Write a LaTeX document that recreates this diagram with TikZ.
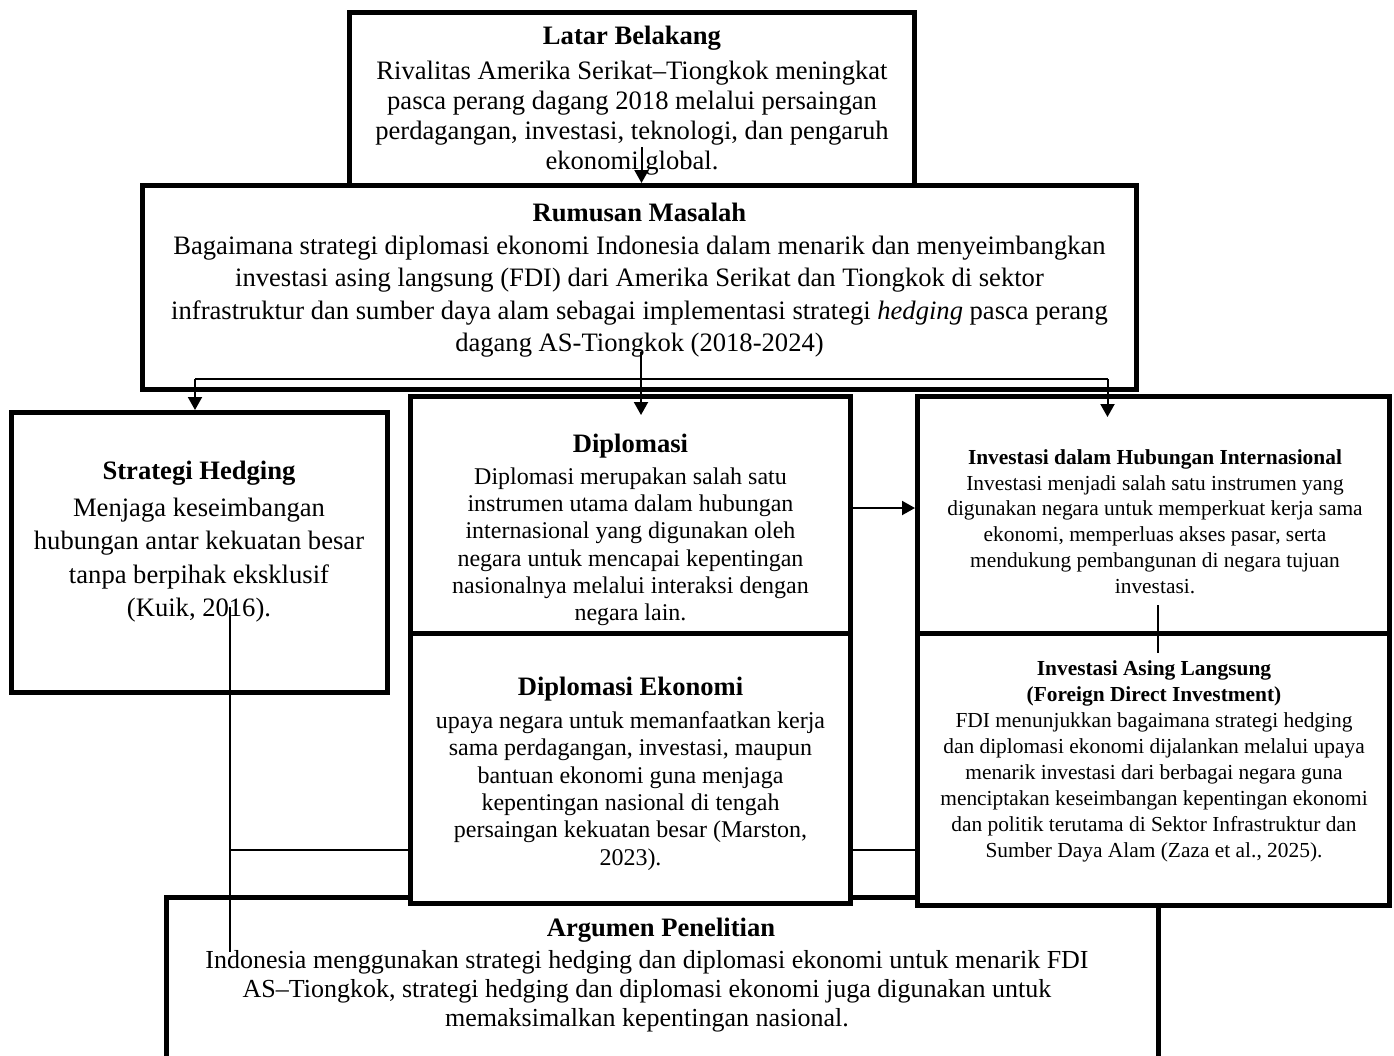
\documentclass[tikz,border=0pt]{standalone}
\usepackage{fontspec}
\setmainfont{Liberation Serif}
\usetikzlibrary{arrows.meta,calc}
\tikzset{
  box/.style={draw, line width=2.5pt, fill=white, rectangle, inner sep=0pt},
  txt/.style={align=center, inner sep=0pt},
  conn/.style={line width=1pt},
  arr/.style={line width=1pt, -{Triangle[length=6.5pt,width=7pt]}},
}
\begin{document}
\begin{tikzpicture}[x=0.5pt,y=-0.5pt]
\useasboundingbox (0,0) rectangle (1394,1056);
\clip (0,0) rectangle (1394,1056);
% boxes
\node[box, minimum width=282.5pt, minimum height=86.25pt] (lat) at (632,98.75) {};
\node[txt, font=\fontsize{13.3}{15}\selectfont] (latT) at (632,100.5)
 {{\bfseries Latar Belakang}\\[2.5pt]
  Rivalitas Amerika Serikat–Tiongkok meningkat\\
  pasca perang dagang 2018 melalui persaingan\\
  perdagangan, investasi, teknologi, dan pengaruh\\
  ekonomi global.};
\node[box, minimum width=497pt, minimum height=102pt] (rum) at (639.5,287.5) {};
\node[box, minimum width=188pt, minimum height=140pt] (sh) at (199.5,552.5) {};
\node[box, minimum width=220pt, minimum height=118.25pt] (dip) at (630.5,514.75) {};
\node[box, minimum width=236pt, minimum height=118.25pt] (ihi) at (1153.5,514.75) {};
\node[box, minimum width=496pt, minimum height=101.25pt] (arg) at (662.5,998.75) {};
\node[box, minimum width=220pt, minimum height=135.25pt] (de) at (630.5,768.25) {};
\node[box, minimum width=236pt, minimum height=136pt] (ial) at (1153.5,769) {};
% texts
\node[txt, font=\fontsize{13.3}{16.25}\selectfont] (rumT) at (639.5,280.5)
 {{\bfseries Rumusan Masalah}\\
  Bagaimana strategi diplomasi ekonomi Indonesia dalam menarik dan menyeimbangkan\\
  investasi asing langsung (FDI) dari Amerika Serikat dan Tiongkok di sektor\\
  infrastruktur dan sumber daya alam sebagai implementasi strategi \textit{hedging} pasca perang\\
  dagang AS-Tiongkok (2018-2024)};
\node[txt, font=\fontsize{13.3}{16.75}\selectfont] (shT) at (199,542)
 {{\bfseries Strategi Hedging}\\[1.5pt]
  Menjaga keseimbangan\\
  hubungan antar kekuatan besar\\
  tanpa berpihak eksklusif\\
  (Kuik, 2016).};
\node[txt, font=\fontsize{12}{13.6}\selectfont] (dipT) at (630.5,530)
 {{\fontsize{13.3}{13.6}\selectfont\bfseries Diplomasi}\\[2.3pt]
  Diplomasi merupakan salah satu\\
  instrumen utama dalam hubungan\\
  internasional yang digunakan oleh\\
  negara untuk mencapai kepentingan\\
  nasionalnya melalui interaksi dengan\\
  negara lain.};
\node[txt, font=\fontsize{12}{13.65}\selectfont] (deT) at (630.5,773.5)
 {{\fontsize{13.3}{13.65}\selectfont\bfseries Diplomasi Ekonomi}\\[3pt]
  upaya negara untuk memanfaatkan kerja\\
  sama perdagangan, investasi, maupun\\
  bantuan ekonomi guna menjaga\\
  kepentingan nasional di tengah\\
  persaingan kekuatan besar (Marston,\\
  2023).};
\node[txt, font=\fontsize{10.7}{12.85}\selectfont] (ihiT) at (1155,521.5)
 {{\bfseries Investasi dalam Hubungan Internasional}\\
  Investasi menjadi salah satu instrumen yang\\
  digunakan negara untuk memperkuat kerja sama\\
  ekonomi, memperluas akses pasar, serta\\
  mendukung pembangunan di negara tujuan\\
  investasi.};
\node[txt, font=\fontsize{10.7}{13}\selectfont] (ialT) at (1154,761)
 {{\bfseries Investasi Asing Langsung}\\
  {\bfseries (Foreign Direct Investment)}\\
  FDI menunjukkan bagaimana strategi hedging\\
  dan diplomasi ekonomi dijalankan melalui upaya\\
  menarik investasi dari berbagai negara guna\\
  menciptakan keseimbangan kepentingan ekonomi\\
  dan politik terutama di Sektor Infrastruktur dan\\
  Sumber Daya Alam (Zaza et al., 2025).};
\node[txt, font=\fontsize{13.3}{14.5}\selectfont\bfseries] (argH) at (661,930) {Argumen Penelitian};
\node[txt, font=\fontsize{13}{14.6}\selectfont] (argT) at (647,991)
 {Indonesia menggunakan strategi hedging dan diplomasi ekonomi untuk menarik FDI\\
  AS–Tiongkok, strategi hedging dan diplomasi ekonomi juga digunakan untuk\\
  memaksimalkan kepentingan nasional.};
% connectors
\coordinate (a1s) at (641.5,147);
\draw[arr] (a1s) -- (a1s |- rum.north);
\coordinate (a2s) at (641,352);
\coordinate (a2e) at (641,415);
\draw[arr] (a2s) -- (a2e);
\coordinate (bL) at (195,379);
\coordinate (bR) at (1107.5,379);
\coordinate (bRe) at (1107.5,417);
\draw[conn] (bL) -- (bR);
\draw[arr] (bL) -- (bL |- sh.north);
\draw[arr] (bR) -- (bRe);
\coordinate (a4) at (850.5,508);
\draw[arr] (a4) -- (a4 -| ihi.west);
\coordinate (v1) at (1157.5,605);
\coordinate (v2) at (1157.5,653);
\draw[conn] (v1) -- (v2);
\coordinate (s1) at (229.5,607);
\coordinate (s2) at (229.5,952);
\draw[conn] (s1) -- (s2);
\coordinate (h1) at (229.5,850);
\draw[conn] (h1) -- (h1 -| de.west);
\coordinate (h2) at (850.5,850);
\draw[conn] (h2) -- (h2 -| ial.west);
\end{tikzpicture}
\end{document}
